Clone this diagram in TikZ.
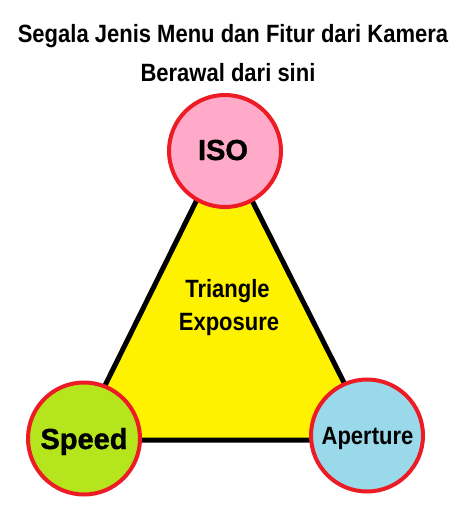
\documentclass[tikz,border=0pt]{standalone}
\usepackage{fontspec}
\setmainfont{Liberation Sans}
\newfontfamily\narrowfont[FakeStretch=0.88]{Liberation Sans}
\newfontfamily\heavyfont[FakeBold=1.2]{Liberation Sans Bold}
\definecolor{cred}{HTML}{ED1C24}
\definecolor{cpink}{HTML}{FFAAC9}
\definecolor{cyel}{HTML}{FFF200}
\definecolor{cgreen}{HTML}{B5E61D}
\definecolor{cblue}{HTML}{99D9EA}
\tikzset{
  bubble/.style={circle, draw=cred, line width=3pt, minimum size=84pt, inner sep=0pt},
  narrowtxt/.style={font=\narrowfont\bfseries\fontsize{18.75pt}{22pt}\selectfont, anchor=base, inner sep=0pt},
  widetxt/.style={font=\heavyfont\fontsize{21.75pt}{26pt}\selectfont, anchor=base, inner sep=0pt},
}
\begin{document}
\begin{tikzpicture}[x=0.75pt,y=-0.75pt]
\useasboundingbox (0,0) rectangle (475,514);
\coordinate (ta) at (224,145);
\coordinate (tl) at (78,440);
\coordinate (tr) at (373,440);
\draw[fill=cyel, line width=3.75pt, line join=miter] (ta) -- (tl) -- (tr) -- cycle;
\node[bubble, fill=cpink] (iso) at (225,151) {};
\node[bubble, fill=cgreen] (speed) at (84,438.5) {};
\node[bubble, fill=cblue] (aperture) at (367,435.5) {};
\node[narrowtxt] (t1) at (233,42) {Segala Jenis Menu dan Fitur dari Kamera};
\node[narrowtxt] (t2) at (228,81) {Berawal dari sini};
\node[widetxt] (isotxt) at (223,160) {ISO};
\node[widetxt] (speedtxt) at (84,449) {Speed};
\node[narrowtxt] (apertxt) at (367.5,444) {Aperture};
\node[narrowtxt] (tri1) at (227.5,297) {Triangle};
\node[narrowtxt] (tri2) at (229,330) {Exposure};
\end{tikzpicture}
\end{document}
